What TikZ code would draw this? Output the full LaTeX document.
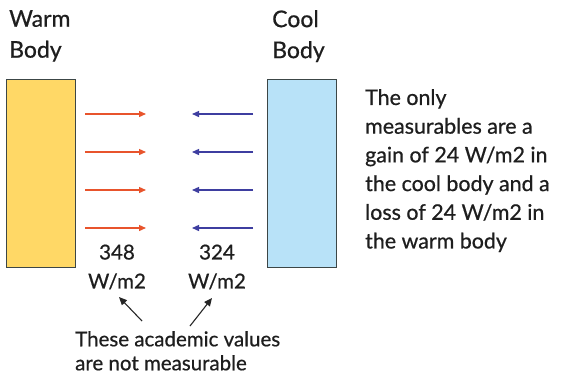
\documentclass[tikz,border=0pt]{standalone}
\usepackage{fontspec}
\setmainfont{Lato}[FakeBold=0.6]
\usetikzlibrary{arrows.meta}
\definecolor{warmfill}{RGB}{255,216,102}
\definecolor{coolfill}{RGB}{184,226,248}
\definecolor{boxline}{RGB}{60,70,70}
\definecolor{redarr}{RGB}{232,84,44}
\definecolor{bluearr}{RGB}{62,62,160}
\definecolor{txt}{RGB}{30,30,30}
\tikzset{
  x=1pt,y=-1pt,
  body/.style={draw=boxline,line width=1.2pt,inner sep=0pt,minimum width=69pt,minimum height=188pt},
  lbl/.style={text=txt,align=left,inner sep=0pt,font=\fontsize{23}{31}\selectfont},
  txtblk/.style={text=txt,align=left,inner sep=0pt,font=\fontsize{21.4}{28.7}\selectfont},
  notetxt/.style={text=txt,align=left,inner sep=0pt,font=\fontsize{20.5}{24}\selectfont},
  num/.style={text=txt,align=center,inner sep=0pt,font=\fontsize{20.5}{29}\selectfont},
  redflow/.style={draw=redarr,line width=1.3pt,-{Triangle[length=7pt,width=6pt]}},
  blueflow/.style={draw=bluearr,line width=1.3pt,-{Triangle[length=7pt,width=6pt]}},
  pointer/.style={draw=black!85,line width=1.1pt,-{Triangle[length=8pt,width=7pt]}}
}
\begin{document}
\begin{tikzpicture}
\useasboundingbox[fill=white] (0,0) rectangle (563,383);
\node[body,fill=warmfill,anchor=north west] (warm) at (6,79) {};
\node[body,fill=coolfill,anchor=north west] (cool) at (267,79) {};
\node[lbl,anchor=north west] (warmlbl) at (9,10) {Warm\\Body};
\node[lbl,anchor=north west] (coollbl) at (272,10) {Cool\\Body};
\node[txtblk,anchor=north west] (info) at (365,89) {The only\\measurables are a\\gain of 24 W/m2 in\\the cool body and a\\loss of 24 W/m2 in\\the warm body};
\foreach \i/\yy in {1/114,2/152,3/190,4/228}{
  \coordinate (rs\i) at (85,\yy); \coordinate (re\i) at (146,\yy);
  \coordinate (bs\i) at (253,\yy); \coordinate (be\i) at (192,\yy);
  \draw[redflow] (rs\i) -- (re\i);
  \draw[blueflow] (bs\i) -- (be\i);
}
\node[num] (v348) at (117,267) {348\\W/m2};
\node[num] (v324) at (217,267) {324\\W/m2};
\node[notetxt,anchor=north west] (note) at (75,331) {These academic values\\are not measurable};
\coordinate (p1) at (142,321); \coordinate (p2) at (190,326);
\coordinate (t1) at (119,297); \coordinate (t2) at (212,298);
\draw[pointer] (p1) -- (t1);
\draw[pointer] (p2) -- (t2);
\end{tikzpicture}
\end{document}
